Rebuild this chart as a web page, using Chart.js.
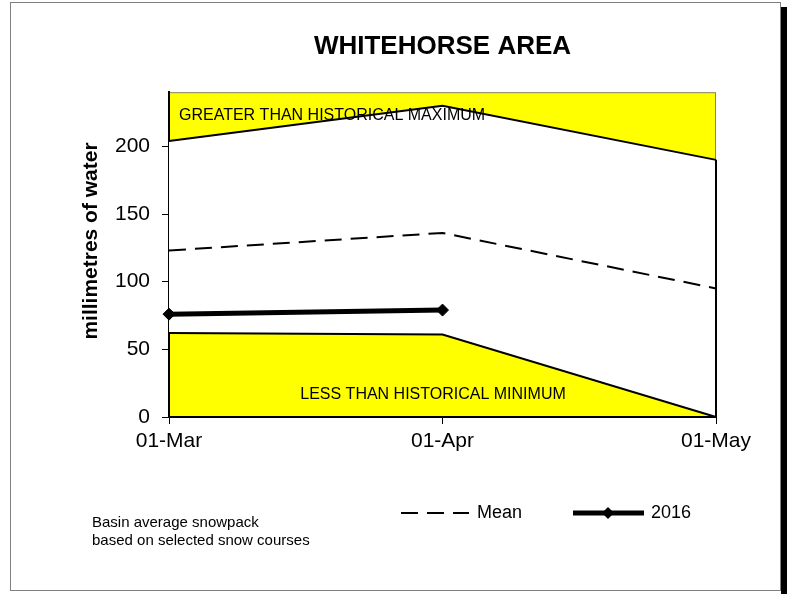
<!DOCTYPE html>
<html>
<head>
<meta charset="utf-8">
<script src="https://cdn.jsdelivr.net/npm/chart.js@4.4.1/dist/chart.umd.min.js"></script>
<style>
  body { margin: 0; background: #fff; }
  #frame { position: absolute; left: 10px; top: 2px; width: 769px; height: 587px;
           border: 1px solid #808080; background: #fff; }
  #shadow { position: absolute; left: 781px; top: 7px; width: 6px; height: 587px; background: #000; }
  #chart { position: absolute; left: 0; top: 0; }
  #note { position: absolute; left: 92px; top: 513px; font: 15px "Liberation Sans", Arial, sans-serif;
          line-height: 17.5px; color: #000; }
</style>
</head>
<body>
<div id="frame"></div>
<div id="shadow"></div>
<canvas id="chart" width="792" height="594"></canvas>
<div id="note">Basin average snowpack<br>based on selected snow courses</div>
<script>
// chart values
const months = ['01-Mar', '01-Apr', '01-May'];
const maxVals = [204, 230, 190];
const minVals = [62, 61, 0];
const meanVals = [123, 136, 95];
const vals2016 = [76, 79, null];
const yTicks = [0, 50, 100, 150, 200];

const FONT = '"Liberation Sans", Arial, sans-serif';

// yellow plot background + grey frame of the plot area
const plotBack = {
    id: 'plotBack',
    beforeDraw(chart) {
        const a = chart.chartArea, ctx = chart.ctx;
        ctx.save();
        ctx.fillStyle = '#ffff00';
        ctx.fillRect(a.left, a.top, a.width, a.height);
        ctx.strokeStyle = '#808080';
        ctx.lineWidth = 1;
        ctx.strokeRect(a.left + 0.5, a.top + 0.5, a.width - 1, a.height);
        ctx.restore();
    }
};

// band labels inside the plot, y axis title
const bandText = {
    id: 'bandText',
    afterDatasetsDraw(chart) {
        const a = chart.chartArea, ctx = chart.ctx;
        ctx.save();
        ctx.fillStyle = '#000';
        ctx.font = '16px ' + FONT;
        ctx.textBaseline = 'middle';
        ctx.textAlign = 'left';
        ctx.fillText('GREATER THAN HISTORICAL MAXIMUM', a.left + 10, a.top + 23);
        ctx.textAlign = 'center';
        ctx.fillText('LESS THAN HISTORICAL MINIMUM', a.left + 264, a.bottom - 22);
        // axis title
        ctx.font = 'bold 21px ' + FONT;
        ctx.translate(91, 241);
        ctx.rotate(-Math.PI / 2);
        ctx.fillText('millimetres of water', 0, 0);
        ctx.restore();
    }
};

// legend for Mean and 2016
const legendBox = {
    id: 'legendBox',
    afterDraw(chart) {
        const ctx = chart.ctx;
        const mean = chart.data.datasets[1];
        const y16 = chart.data.datasets[0];
        const y = 513;
        ctx.save();
        ctx.strokeStyle = '#000';
        ctx.lineWidth = mean.borderWidth;
        ctx.setLineDash(mean.borderDash);
        ctx.beginPath();
        ctx.moveTo(401, y); ctx.lineTo(469, y);
        ctx.stroke();
        ctx.setLineDash([]);
        ctx.lineWidth = y16.borderWidth;
        ctx.beginPath();
        ctx.moveTo(573, y); ctx.lineTo(644, y);
        ctx.stroke();
        ctx.fillStyle = '#000';
        ctx.beginPath();
        ctx.moveTo(602, y); ctx.lineTo(608, y - 6); ctx.lineTo(614, y); ctx.lineTo(608, y + 6);
        ctx.closePath();
        ctx.fill();
        ctx.font = '18px ' + FONT;
        ctx.textBaseline = 'middle';
        ctx.textAlign = 'left';
        ctx.fillText(mean.label, 477, y);
        ctx.fillText(y16.label, 651, y);
        ctx.restore();
    }
};

new Chart(document.getElementById('chart'), {
    type: 'line',
    data: {
        labels: months,
        datasets: [
            {
                label: '2016', data: vals2016, borderColor: '#000', borderWidth: 5,
                pointStyle: 'rectRot', pointRadius: 6, pointBackgroundColor: '#000',
                pointBorderColor: '#000', pointBorderWidth: 1, fill: false, clip: false
            },
            {
                label: 'Mean', data: meanVals, borderColor: '#000', borderWidth: 2,
                borderDash: [17, 9], pointRadius: 0, fill: false, clip: false
            },
            {
                label: 'Max', data: maxVals, borderColor: '#000', borderWidth: 2,
                pointRadius: 0, fill: 3, backgroundColor: '#ffffff', clip: false
            },
            {
                label: 'Min', data: minVals, borderColor: '#000', borderWidth: 2,
                pointRadius: 0, fill: false, clip: false
            },
            {
                label: 'Edge',
                data: [{x: months[2], y: maxVals[2]}, {x: months[2], y: minVals[2]}],
                borderColor: '#000', borderWidth: 2, pointRadius: 0, fill: false, clip: false
            }
        ]
    },
    options: {
        responsive: false,
        animation: false,
        devicePixelRatio: 1,
        layout: { padding: { left: 78, right: 76, top: 0, bottom: 137 } },
        elements: { line: { tension: 0 } },
        plugins: {
            legend: { display: false },
            tooltip: { enabled: false },
            filler: { drawTime: 'beforeDatasetsDraw' },
            title: {
                display: true, text: 'WHITEHORSE AREA', color: '#000', fullSize: false,
                font: { family: FONT, size: 26, weight: 'bold' },
                padding: { top: 31, bottom: 30 }
            }
        },
        scales: {
            x: {
                offset: false,
                grid: { drawOnChartArea: false, drawTicks: true, tickLength: 7, color: '#000' },
                border: { display: true, color: '#000', width: 2 },
                ticks: { color: '#000', padding: 5, font: { family: FONT, size: 21 }, maxRotation: 0 },
                afterFit(s) { s.height = 40; }
            },
            y: {
                min: 0, max: 240,
                grid: { drawOnChartArea: false, drawTicks: true, tickLength: 7, color: '#000' },
                border: { display: true, color: '#000', width: 2 },
                ticks: { color: '#000', padding: 12, stepSize: 50, font: { family: FONT, size: 21 } },
                afterBuildTicks(s) { s.ticks = yTicks.map(v => ({ value: v })); },
                afterFit(s) { s.width = 91; }
            }
        }
    },
    plugins: [plotBack, bandText, legendBox]
});
</script>
</body>
</html>
